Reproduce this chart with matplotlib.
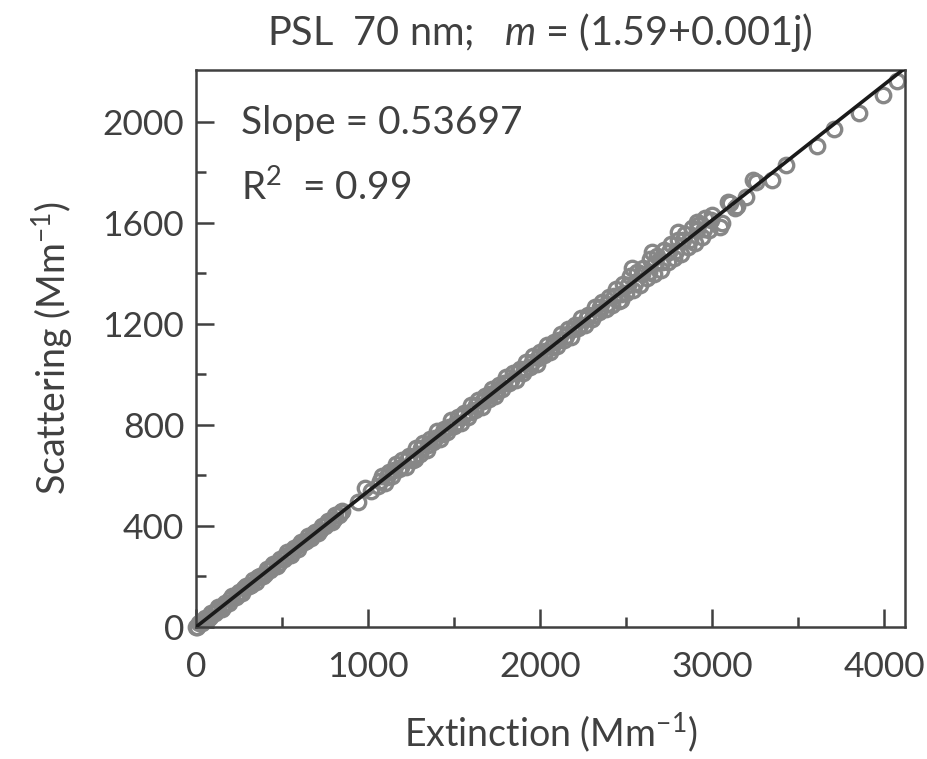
import numpy as np
import matplotlib.pyplot as plt

# extinction / scattering (Mm^-1)
ext_low = [0, 5, 20, 35, 50, 70, 90, 110, 130, 150, 170, 190, 210, 230, 250, 270, 290, 310,
           330, 350, 370, 390, 410, 430, 450, 470, 490, 510, 530, 550, 570, 590, 610, 630,
           650, 670, 690, 710, 730, 750, 770, 790, 810, 830, 850]
sca_low = [0, 1, 15, 14, 34, 32, 57, 55, 78, 71, 96, 95, 123, 120, 140, 135, 163, 161,
           188, 180, 203, 200, 229, 227, 249, 241, 269, 268, 295, 287, 311, 307, 335, 335,
           360, 353, 375, 372, 401, 398, 420, 416, 445, 442, 461]

ext_low2 = [40, 80, 120, 160, 200, 240, 280, 320, 360, 400, 440, 480, 520, 560, 600, 640,
            680, 720, 760, 800, 840]
sca_low2 = [24, 40, 68, 82, 111, 125, 154, 168, 197, 211, 240, 254, 283, 297, 326, 340,
            369, 383, 412, 426, 455]

ext_gap = [942, 983, 1015]
sca_gap = [495, 550, 540]

ext_high = [1060, 1080, 1100, 1120, 1140, 1160, 1180, 1200, 1220, 1240, 1260, 1280, 1300,
            1320, 1340, 1360, 1380, 1400, 1420, 1440, 1460, 1480, 1500, 1520, 1540, 1560,
            1580, 1600, 1620, 1640, 1660, 1680, 1700, 1720, 1740, 1760, 1780, 1800, 1820,
            1840, 1860, 1880, 1900, 1920, 1940, 1960, 1980, 2000, 2020, 2040, 2060, 2080,
            2100, 2120, 2140, 2160, 2180, 2200, 2220, 2240, 2260, 2280, 2300, 2320, 2340,
            2360, 2380, 2400, 2420, 2440, 2460, 2480, 2500, 2520, 2540, 2560, 2580, 2600,
            2620, 2640, 2660, 2680, 2700, 2720, 2740, 2760, 2780, 2800, 2820, 2840, 2860,
            2880, 2900, 2920, 2940, 2960, 2980, 3000]
sca_high = [559, 598, 571, 613, 597, 645, 626, 660, 633, 676, 661, 707, 686,
            727, 700, 744, 731, 774, 745, 785, 770, 819, 796, 832, 807, 848,
            832, 879, 858, 899, 869, 916, 903, 944, 916, 957, 942, 989, 967,
            1004, 979, 1022, 1004, 1051, 1030, 1071, 1043, 1088, 1075, 1117, 1088, 1129,
            1114, 1158, 1137, 1178, 1149, 1195, 1182, 1223, 1196, 1236, 1219, 1268, 1245,
            1285, 1258, 1305, 1275, 1338, 1291, 1357, 1321, 1388, 1336, 1405, 1353, 1420,
            1381, 1458, 1398, 1467, 1415, 1493, 1443, 1518, 1461, 1530, 1476, 1555, 1506,
            1581, 1521, 1590, 1545, 1618, 1570, 1631]

ext_high2 = [1070, 1110, 1150, 1190, 1230, 1270, 1310, 1350, 1390, 1430, 1470, 1510, 1550,
             1590, 1630, 1670, 1710, 1750, 1790, 1830, 1870, 1910, 1950, 1990, 2030, 2070,
             2110, 2150, 2190, 2230, 2270, 2310, 2350, 2390, 2430, 2470, 2510, 2550, 2590,
             2630, 2670, 2710, 2750, 2790, 2830, 2870, 2910, 2950, 2990]
sca_high2 = [578, 592, 621, 635, 664, 678, 707, 721, 750, 764, 793, 807, 836,
             850, 879, 893, 922, 936, 965, 979, 1008, 1022, 1051, 1065, 1094, 1108,
             1137, 1151, 1180, 1194, 1223, 1236, 1266, 1279, 1310, 1320, 1354, 1362, 1398,
             1404, 1442, 1446, 1486, 1488, 1530, 1530, 1572, 1574, 1612]

ext_out = [1273, 2471, 2535, 2651, 2802, 2913, 3047, 3058, 3093, 3105, 3134, 3145, 3198,
           3238, 3256, 3349, 3430, 3610, 3709, 3855, 3994, 4076]
sca_out = [665, 1295, 1422, 1485, 1564, 1604, 1584, 1600, 1683, 1679, 1659, 1667, 1703,
           1770, 1762, 1770, 1830, 1905, 1972, 2036, 2107, 2162]

slope = 0.53697
r2 = 0.99

ext = ext_low + ext_low2 + ext_gap + ext_high + ext_high2 + ext_out
sca = sca_low + sca_low2 + sca_gap + sca_high + sca_high2 + sca_out

plt.rcParams['font.family'] = ['Lato', 'DejaVu Sans']
plt.rcParams['mathtext.fontset'] = 'custom'
plt.rcParams['mathtext.rm'] = 'Lato'
plt.rcParams['mathtext.it'] = 'Lato:italic'
txt = '#404040'

fig = plt.figure(figsize=(9.28, 7.59), dpi=100)
ax = fig.add_axes([0.2112, 0.1739, 0.7640, 0.7339])

ax.plot(ext, sca, 'o', ms=10.4, mfc='none', mec='#878787', mew=2.4, clip_on=False, zorder=2)
xl = np.array([0, 4200])
ax.plot(xl, slope * xl, color='#1a1a1a', lw=2.6, zorder=3)

ax.set_xlim(0, 4120)
ax.set_ylim(0, 2205)
ax.set_xticks([0, 1000, 2000, 3000, 4000])
ax.set_xticks([500, 1500, 2500, 3500], minor=True)
ax.set_yticks([0, 400, 800, 1200, 1600, 2000])
ax.set_yticks([200, 600, 1000, 1400, 1800], minor=True)
ax.tick_params(which='both', direction='in', color=txt, width=1.8, labelsize=25.5,
               labelcolor=txt)
ax.tick_params(axis='x', which='both', pad=17)
ax.tick_params(axis='y', which='both', pad=8.5)
ax.tick_params(which='major', length=13)
ax.tick_params(which='minor', length=7)
for s in ax.spines.values():
    s.set_color(txt)
    s.set_linewidth(1.8)

ax.set_xlabel('Extinction (Mm$^{-1}$)', fontsize=27, color=txt, labelpad=20)
ax.set_ylabel('Scattering (Mm$^{-1}$)', fontsize=27, color=txt, labelpad=20)
fig.text(0.582, 0.957, 'PSL  70 nm;   $\\it{m}$ = (1.59+0.001j)', fontsize=28.5,
         color=txt, ha='center', va='center')

ax.text(0.063, 0.905, 'Slope = %.5f' % slope, transform=ax.transAxes, fontsize=28,
        color=txt, va='center')
ax.text(0.063, 0.79, 'R$^{2}$  = %.2f' % r2, transform=ax.transAxes, fontsize=28,
        color=txt, va='center')

fig.savefig('out.png', dpi=100)
